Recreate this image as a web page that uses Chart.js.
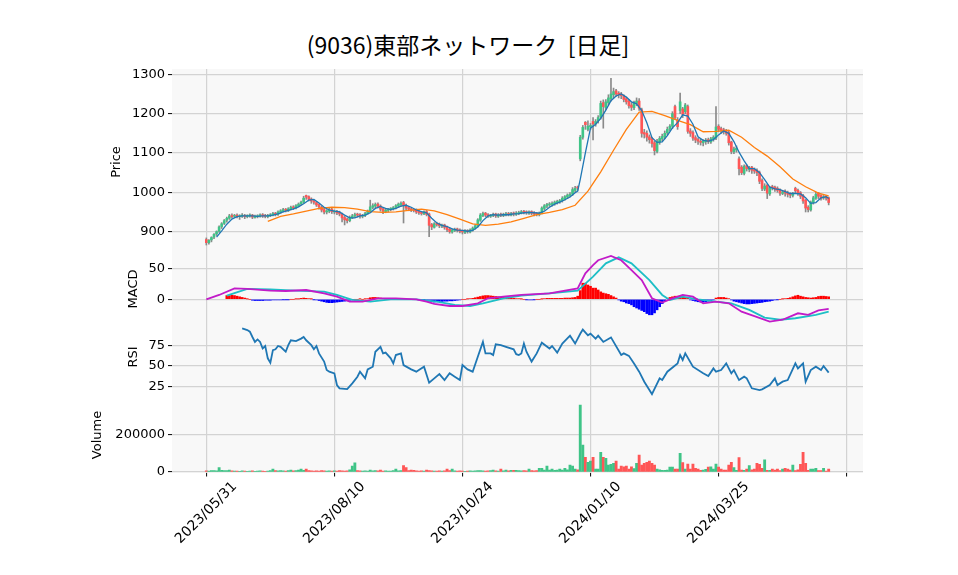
<!DOCTYPE html>
<html>
<head>
<meta charset="utf-8">
<script src="https://cdn.jsdelivr.net/npm/chart.js@4.4.1/dist/chart.umd.min.js"></script>
<style>
  html, body { margin: 0; padding: 0; background: #fff; }
  #wrap { position: relative; width: 958px; height: 575px; overflow: hidden; }
  #wrap canvas { position: absolute; left: 0; }
  .title { position: absolute; left: 0; width: 936px; top: 27px; text-align: center;
    font: 23px "Noto Sans CJK JP", sans-serif; color: #000; line-height: 34px; white-space: pre; }
  .ylab { position: absolute; font: 13px "DejaVu Sans", sans-serif; color: #000;
    transform: translate(-50%, -50%) rotate(-90deg); white-space: nowrap; line-height: 16px; }
</style>
</head>
<body>
<div id="wrap">
  <div class="title">(9036)東部ネットワーク  [日足]</div>
  <canvas id="pricePanel" width="958" height="253" style="top:0"></canvas>
  <canvas id="macdPanel" width="958" height="73" style="top:253px"></canvas>
  <canvas id="rsiPanel" width="958" height="73" style="top:326px"></canvas>
  <canvas id="volPanel" width="958" height="176" style="top:399px"></canvas>
  <div class="ylab" style="left:116px; top:162px">Price</div>
  <div class="ylab" style="left:133px; top:289px">MACD</div>
  <div class="ylab" style="left:133px; top:357px">RSI</div>
  <div class="ylab" style="left:97px; top:435px">Volume</div>
</div>
<script>
// x axis: trading-day index, ticks every 50 sessions
const tickDays = [0, 50, 100, 150, 200, 250];
const tickLabels = ['2023/05/31', '2023/08/10', '2023/10/24', '2024/01/10', '2024/03/25', ''];

// daily candles, index 0 = 2023/05/31
const opens = [
  880,872,879,886,894,901,913,921,929,934, 941,939,942,938,939,941,938,940,942,936,
  938,940,943,940,938,940,942,947,944,950, 952,957,953,957,963,960,965,971,975,992,
  989,983,977,974,969,962,956,950,952,957, 950,951,949,944,936,932,928,935,940,944,
  943,939,941,946,950,962,965,970,965,958, 951,954,957,958,962,965,969,974,966,961,
  958,955,955,951,949,945,951,945,918,911, 921,919,914,917,912,906,899,903,907,904,
  902,898,903,899,904,909,914,929,941,947, 943,939,941,945,939,944,941,943,946,942,
  947,944,946,948,951,950,947,951,948,946, 943,948,959,965,968,969,971,974,976,979,
  984,988,992,996,1005,1012,1085,1140,1178,1160, 1166,1180,1174,1182,1192,1228,1215,1228,1238,1248,
  1258,1252,1250,1245,1238,1232,1222,1215,1226,1232, 1210,1152,1150,1141,1136,1126,1104,1128,1136,1141,
  1151,1161,1168,1218,1184,1208,1212,1205,1218,1156, 1152,1139,1134,1129,1126,1129,1134,1128,1135,1138,
  1168,1162,1159,1156,1152,1128,1103,1108,1085,1064, 1048,1068,1058,1064,1058,1056,1050,1030,1008,1018,
  996,1014,1013,1010,1006,997,1003,998,996,992, 1010,1005,999,992,980,962,955,974,985,998,
  992,986,990,986
];
const highs = [
  884,880,887,895,902,915,923,931,937,944, 945,944,945,943,946,944,943,945,944,942,
  943,945,946,944,944,946,949,949,953,956, 959,959,961,965,966,969,973,978,990,993,
  991,986,980,977,971,965,960,956,960,960, 955,954,952,947,939,935,940,944,947,947,
  946,944,949,955,980,971,973,973,968,961, 958,959,961,964,969,973,976,977,970,964,
  961,958,958,954,951,953,954,947,921,923, 924,922,919,919,914,909,907,909,909,907,
  904,905,905,907,912,918,933,946,950,949, 946,944,947,947,946,947,947,949,949,949,
  950,951,952,954,954,953,953,953,951,949, 950,963,969,972,974,976,978,980,982,989,
  992,996,999,1012,1015,1016,1145,1170,1180,1182, 1175,1190,1185,1195,1232,1235,1236,1248,1290,1265,
  1262,1256,1254,1248,1242,1236,1228,1232,1240,1238, 1214,1160,1156,1146,1140,1130,1135,1142,1148,1156,
  1166,1172,1205,1222,1190,1252,1216,1226,1222,1162, 1156,1144,1138,1135,1134,1137,1138,1140,1144,1218,
  1172,1166,1163,1160,1155,1130,1115,1118,1090,1068, 1070,1070,1066,1066,1062,1060,1054,1034,1022,1020,
  1015,1018,1016,1014,1009,1004,1006,1003,999,1000, 1013,1008,1002,995,982,966,978,990,1000,1000,
  994,992,992,988
];
const lows = [
  866,868,874,882,890,898,908,918,924,931, 934,936,935,931,936,933,935,937,933,934,
  935,937,936,935,935,938,940,940,941,946, 950,950,951,955,956,958,963,968,972,982,
  978,972,970,964,957,950,945,945,948,946, 945,943,940,925,917,922,925,933,936,937,
  934,935,938,944,948,958,961,960,952,946, 948,950,953,955,958,962,964,922,956,953,
  951,950,946,944,942,943,940,887,905,909, 914,910,910,906,900,896,896,900,899,897,
  894,895,896,897,901,906,912,926,938,938, 936,936,938,936,936,938,938,940,940,940,
  940,941,943,945,945,944,944,943,940,940, 940,945,955,961,964,965,967,970,972,975,
  980,984,988,992,1000,1005,1080,1135,1160,1156, 1160,1133,1168,1176,1186,1163,1210,1222,1232,1240,
  1244,1240,1238,1230,1224,1214,1208,1210,1220,1208, 1140,1138,1130,1125,1115,1095,1100,1122,1130,1136,
  1146,1156,1162,1185,1160,1200,1190,1200,1150,1142, 1132,1126,1122,1120,1118,1122,1124,1124,1130,1134,
  1154,1150,1148,1145,1120,1098,1098,1102,1044,1045, 1044,1054,1052,1048,1048,1042,1022,1004,1004,984,
  992,1006,1002,1000,992,994,990,988,986,988, 998,992,984,972,950,950,952,970,982,984,
  980,982,980,968
];
const closes = [
  872,878,885,893,900,912,920,928,934,940, 938,941,939,940,942,938,940,941,937,939,
  940,942,940,939,941,943,946,944,950,953, 956,954,958,962,960,966,970,975,985,988,
  982,978,975,968,963,955,950,953,956,951, 952,948,945,935,930,928,936,940,943,942,
  940,941,946,952,963,966,969,964,957,952, 955,956,958,961,966,970,972,966,960,957,
  955,954,950,948,946,950,944,916,912,920, 918,915,916,911,905,900,904,906,903,901,
  899,902,900,904,909,915,930,942,946,942, 940,942,944,940,943,942,944,945,943,946,
  945,947,948,950,949,948,950,947,945,944, 947,960,966,969,970,972,975,977,979,985,
  989,993,995,1007,1010,1011,1140,1165,1172,1168, 1170,1174,1180,1190,1226,1218,1230,1240,1250,1256,
  1250,1248,1246,1236,1230,1220,1216,1228,1232,1214, 1150,1148,1140,1134,1124,1106,1130,1137,1142,1150,
  1160,1168,1200,1190,1167,1230,1198,1222,1155,1150, 1138,1133,1130,1127,1130,1133,1129,1136,1140,1166,
  1160,1158,1154,1150,1126,1104,1110,1112,1060,1050, 1066,1060,1062,1056,1054,1050,1028,1010,1016,998,
  1012,1012,1008,1005,998,1001,998,995,993,997, 1004,998,990,978,960,956,975,986,995,990,
  985,988,985,974
];
const volumes = [
  6000,5000,8000,7000,6000,23000,9000,7000,8000,10000, 6000,5000,5000,4000,6000,5000,4000,5000,6000,4000,
  5000,6000,5000,4000,5000,7000,16000,8000,6000,7000, 6000,5000,7000,10000,6000,8000,10000,16000,9000,16000,
  8000,6000,5000,6000,5000,7000,6000,5000,6000,5000, 6000,5000,7000,6000,5000,6000,12000,32000,48000,8000,
  6000,5000,6000,5000,10000,6000,7000,6000,10000,5000, 6000,5000,5000,7000,16000,6000,7000,34000,23000,8000,
  10000,9000,6000,5000,6000,5000,10000,8000,6000,5000, 5000,6000,5000,6000,16000,8000,16000,6000,5000,6000,
  5000,4000,5000,6000,5000,6000,7000,8000,6000,5000, 6000,7000,10000,6000,5000,16000,6000,10000,6000,9000,
  9000,9000,8000,6000,7000,6000,16000,7000,6000,8000, 19000,19000,10000,32000,10000,16000,9000,10000,16000,10000,
  19000,12000,37000,32000,16000,12000,355000,143000,78000,51000, 58000,78000,16000,16000,104000,78000,72000,37000,41000,46000,
  58000,16000,32000,28000,32000,16000,28000,18000,46000,90000, 37000,46000,51000,58000,46000,37000,16000,12000,9000,9000,
  10000,26000,26000,16000,16000,99000,50000,16000,42000,16000, 42000,19000,16000,9000,10000,14000,26000,28000,16000,42000,
  26000,16000,10000,10000,37000,51000,23000,9000,76000,10000, 9000,16000,34000,12000,16000,46000,41000,20000,64000,9000,
  9000,16000,10000,16000,8000,16000,19000,16000,10000,37000, 8000,12000,41000,104000,46000,9000,16000,16000,19000,8000,
  8000,19000,5000,16000
];

// moving averages (short = blue, long = orange)
const ma5Days = [4,6,8,10,12,14,16,18,20,22,24,26,28,30,32,34,36,38,40,42,44,46,48,50,52,54,56,58,60,62,64,66,68,70,72,74,76,78,80,82,84,86,88,90,92,94,96,98,100,102,104,106,108,110,112,114,116,118,120,122,124,126,128,130,132,134,136,138,140,142,144,145,146,148,150,152,154,156,158,160,162,164,166,168,170,172,174,176,178,180,182,184,186,188,190,192,194,196,198,200,202,204,206,208,210,212,214,216,218,220,222,224,226,228,230,232,234,236,238,240,242,243];
const ma5Vals = [886,902,919,932,938,940,940,940,939,940,940,942,945,950,954,958,963,971,980,982,973,962,955,952,950,942,935,935,940,942,948,959,964,959,956,959,965,967,962,955,951,948,934,922,916,913,907,904,903,901,903,912,928,940,943,942,943,943,945,946,948,949,948,947,952,962,970,975,981,988,999,1003,1033,1100,1163,1173,1188,1209,1233,1245,1250,1242,1230,1225,1208,1177,1139,1127,1128,1144,1164,1177,1197,1194,1173,1141,1132,1130,1134,1146,1156,1150,1129,1102,1080,1060,1060,1050,1032,1013,1009,1007,1002,997,997,996,986,972,974,986,989,984];
const ma25Days = [24,29,34,39,44,49,54,59,64,69,74,79,84,89,94,99,104,109,114,119,124,129,134,139,144,149,154,159,164,169,174,179,184,189,194,199,204,209,214,219,224,229,234,239,243];
const ma25Vals = [926,939,945,952,959,962,961,957,951,949,950,954,957,953,943,932,920,916,919,925,934,943,949,956,967,1003,1052,1107,1160,1204,1206,1195,1183,1172,1154,1155,1158,1140,1114,1092,1065,1034,1014,998,991];

// MACD panel
const macdDays = [0,5,11,16,25,31,39,46,51,56,61,67,74,82,86,89,95,100,106,110,116,123,134,145,148,151,153,158,162,166,170,174,178,182,186,190,194,199,204,209,214,220,225,231,235,239,243];
const macdVals = [0,7,17.7,16.7,14,13.4,15,9.7,4.3,-3.8,-3.8,1.6,1.6,0,-3.8,-7.5,-10.8,-10.8,-6.5,1.6,4.3,7,9.7,17.7,42,55,63,70,63,47,31,1.6,-5.4,1.6,7,4.3,-6.5,-3.8,-6.5,-20,-27,-36,-33,-22.6,-25,-18,-15.6];
const signalDays = [8,16,25,35,46,51,57,64,72,82,90,97,103,108,116,123,134,145,151,156,161,166,173,178,181,186,192,199,205,212,218,224,230,238,243];
const signalVals = [5.9,16.7,16,14,12.4,7,-1,-3.8,0,0,-3.8,-9,-10.8,-6.5,1.6,5.9,9.7,14,36.6,58,67.7,58,31,7,-1,4.3,0,-3.8,-6.5,-17,-29.6,-33,-30.6,-25,-20];
const histVals = [
  null,null,null,null,null,null,null,null,
  6,6,6.5,6,5,4,3,2, 0.5,0,
  -1.5,-2,-2,-2,-2,-1.5,-1.5,-1.5,-1,-1,-1,-1,-0.5,-0.5,
  -0.5,0,0,0.5,0.5, 1.5,2,1.5,1,0.5,
  -0.5,-1,-2,-3,-4,-5,-5.5,-5.5,-5,-4.5,-4,-3.5,-3,-2.5,-1.5,-0.5,
  0,0,0.5,0,0.5,1, 2.5,3,3,2.5,2,1,
  0.5,0.5,0.3,0.3,0,0,0.3,0.3,0,0,0,0,0,-0.3,-0.5,-0.5,
  -1.5,-3,-4,-4.5,-4,-3.5,-3.5,-3,-3,-2.5,-2.5,-2,-1.5,-1,
  0,0,0.5,
  1,1.5,2.5,3.5,4.5,5.5,6,6,5.5,5,4.5,4,3.5,3,2.5,2,1.5,1.5,1,1,
  0.5,0,-0.5,-1,-1,-0.5,0,0,
  0.5,1,1.5,1.5,1.5,1.5,1.5,1.5,1.5,2,2,2,2.5,3,
  5,14,26,26,23,21,18,18,15,12,10,9,8,6,4,2,
  -1,-3,-4,-6,-7,-9,-12,-14,-16,-18,-20,-23,-25,-25,-22,-17,-12,-7,-3,
  1,3,4,5,5,4.5,4,3,2,
  -1,-2,-3,-4,-4.5,-4.5,-4,-3,-2,-1,
  2,3,3,3,2,1,
  -1,-3,-4,-5,-6,-7,-7.5,-7.5,-7,-6.5,-6,-5.5,-5,-4,-3.5,-3,-2,-1,
  -0.5,0,0.5,1,
  1.5,2.5,4,5.5,6.5,5,4,3,2.5,2,2.5,3,4.5,5,5,4.5,4
];

// RSI panel
const rsiDays = [14,16,17,18,19,20,21,22,23,24,25,26,27,28,29,31,32,33,35,37,38,39,41,42,43,44,46,47,48,50,51,52,55,57,59,60,62,63,65,66,68,69,70,72,73,74,76,77,80,82,83,85,87,89,91,93,95,97,99,100,102,104,106,108,109,111,112,113,115,117,120,121,122,123,124,125,127,129,131,134,135,137,139,142,144,146,147,149,150,152,153,155,158,162,163,165,167,169,171,173,174,177,178,180,184,185,186,187,190,194,196,198,199,201,203,205,206,208,210,211,213,216,217,220,222,223,225,227,230,231,233,234,236,238,240,241,243];
const rsiVals = [95.5,93.5,91.5,85,79,82,79,71,74,59,53.7,69,70,74,73,67,75,81,80,83,85,81,75,70,74,65,55,44.7,42.7,40.7,26.4,22.4,21.5,28.5,36.6,42.7,34.6,45.5,48.8,67,73,65,66,59,52.8,63,65,50.8,45.5,42.7,44.7,48.8,29.3,34.6,39.8,32.5,40.7,36.6,32.5,50.8,45.5,42.7,61,79,65,65,63,76,75,73,70,64,63,65,77,67,55,65,78,71,74,66,77,86.6,77,89,94,87,89,83,86.6,79,84.5,63,65,62,52.8,42.7,30.5,20.3,15.4,34.6,32.5,42.7,52.8,63,57,65,48.8,40.7,37.4,46.7,42.7,44.7,52.8,40.7,44.7,32.5,36.6,34.6,22.4,20.3,21.1,26.4,34.6,26.4,30.5,32.5,52.8,46.7,52.8,30.5,44.7,48.8,44.7,49.6,41.5];

const UP = '#3fc487';
const DOWN = '#ff5656';
const WICK = '#8a8a8a';
const GRID = '#d3d3d3';
const FACE = '#f8f8f8';
const FONT = { family: 'DejaVu Sans', size: 13 };
const X_MIN = -13.4;
const X_MAX = 256.4;

const isUp = closes.map((c, i) => c >= opens[i]);
const pts = (days, vals) => days.map((d, i) => ({ x: d, y: vals[i] }));

const facePlugin = {
  id: 'face',
  beforeDraw(chart) {
    const { ctx, chartArea: a } = chart;
    ctx.save();
    ctx.fillStyle = FACE;
    ctx.fillRect(a.left, a.top, a.right - a.left, a.bottom - a.top);
    ctx.restore();
  }
};

// rotated date labels, centred under each tick like matplotlib does
const dateLabels = {
  id: 'dateLabels',
  afterDraw(chart) {
    const { ctx, chartArea, scales } = chart;
    ctx.save();
    ctx.font = '14px "DejaVu Sans"';
    ctx.fillStyle = '#000';
    ctx.textAlign = 'center';
    ctx.textBaseline = 'middle';
    tickDays.forEach((d, i) => {
      const text = tickLabels[i];
      if (!text) return;
      const w = ctx.measureText(text).width;
      const half = ((w + 14) * Math.SQRT1_2) / 2;
      ctx.save();
      ctx.translate(scales.x.getPixelForValue(d), chartArea.bottom + 7 + half);
      ctx.rotate(-Math.PI / 4);
      ctx.fillText(text, 0, 0);
      ctx.restore();
    });
    ctx.restore();
  }
};

function xAxis(bottom) {
  return {
    type: 'linear', min: X_MIN, max: X_MAX, offset: false,
    afterBuildTicks: (s) => { s.ticks = tickDays.map((v) => ({ value: v })); },
    grid: { offset: false, color: GRID, lineWidth: 1.2, drawTicks: bottom, tickLength: 4, tickColor: '#000', tickWidth: 1 },
    border: { display: false },
    ticks: { display: false },
    afterFit: (s) => {
      s.height = bottom ? 102.5 : 0;
      s.paddingLeft = 0;
      s.paddingRight = 0;
    }
  };
}

function yAxis(min, max, ticks) {
  return {
    type: 'linear', position: 'left', min, max,
    afterBuildTicks: (s) => { s.ticks = ticks.map((v) => ({ value: v })); },
    grid: { color: GRID, lineWidth: 1.2, drawTicks: true, tickLength: 4, tickColor: '#000', tickWidth: 1 },
    border: { display: false },
    ticks: { color: '#000', font: FONT, padding: 3, callback: (v) => String(v) },
    afterFit: (s) => {
      s.width = 172;
      s.paddingTop = 0;
      s.paddingBottom = 0;
    }
  };
}

function baseOptions(yScale, bottom, top) {
  return {
    responsive: false,
    animation: false,
    events: [],
    layout: { padding: { left: 0, right: 958 - 863, top: top, bottom: 0 } },
    plugins: { legend: { display: false }, tooltip: { enabled: false } },
    scales: { x: xAxis(bottom), y: yScale }
  };
}

const lineDs = (data, color, width, order) => ({
  type: 'line', data, borderColor: color, borderWidth: width, pointRadius: 0, fill: false, tension: 0, order
});

new Chart(document.getElementById('pricePanel'), {
  type: 'bar',
  data: {
    datasets: [
      lineDs(pts(ma5Days, ma5Vals), '#1f77b4', 1.3, 0),
      lineDs(pts(ma25Days, ma25Vals), '#ff7f0e', 1.3, 0),
      {
        data: closes.map((c, i) => ({ x: i, y: [opens[i], c] })),
        backgroundColor: isUp.map((u) => (u ? UP : DOWN)),
        barThickness: 2, grouped: false, minBarLength: 1, order: 1
      },
      {
        data: highs.map((h, i) => ({ x: i, y: [lows[i], h] })),
        backgroundColor: WICK, barThickness: 1, grouped: false, order: 2
      }
    ]
  },
  options: baseOptions(yAxis(845.7, 1313.5, [900, 1000, 1100, 1200, 1300]), false, 69),
  plugins: [facePlugin]
});

new Chart(document.getElementById('macdPanel'), {
  type: 'bar',
  data: {
    datasets: [
      lineDs(pts(macdDays, macdVals), '#c21bc8', 1.8, 0),
      lineDs(pts(signalDays, signalVals), '#1dbfc6', 1.8, 0),
      {
        data: histVals.map((h, i) => ({ x: i, y: h })).filter((p) => p.y !== null),
        backgroundColor: histVals.filter((h) => h !== null).map((h) => (h >= 0 ? '#ff0000' : '#0000ff')),
        barThickness: 2, grouped: false, order: 1
      }
    ]
  },
  options: baseOptions(yAxis(-43.1, 74.7, [0, 50]), false, 0),
  plugins: [facePlugin]
});

new Chart(document.getElementById('rsiPanel'), {
  type: 'line',
  data: { datasets: [lineDs(pts(rsiDays, rsiVals), '#1f77b4', 1.8, 0)] },
  options: baseOptions(yAxis(9.4, 98.4, [25, 50, 75]), false, 0),
  plugins: [facePlugin]
});

new Chart(document.getElementById('volPanel'), {
  type: 'bar',
  data: {
    datasets: [{
      data: volumes.map((v, i) => ({ x: i, y: v })),
      backgroundColor: isUp.map((u) => (u ? UP : DOWN)),
      barThickness: 2.2, grouped: false
    }]
  },
  options: baseOptions(yAxis(-2650, 387300, [0, 200000]), true, 0),
  plugins: [facePlugin, dateLabels]
});
</script>
</body>
</html>
